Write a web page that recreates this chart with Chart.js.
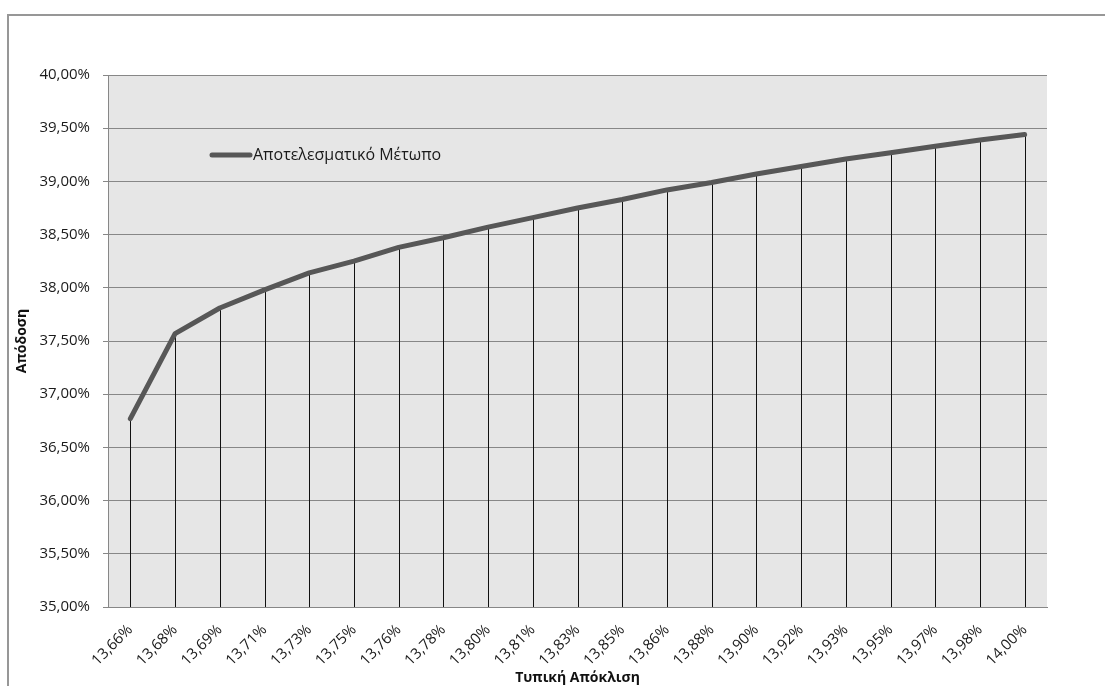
<!DOCTYPE html>
<html>
<head>
<meta charset="utf-8">
<script src="https://cdn.jsdelivr.net/npm/chart.js@4/dist/chart.umd.min.js"></script>
<style>
  html, body { margin: 0; padding: 0; background: #fff; overflow: hidden; }
  #wrap { position: relative; width: 1105px; height: 686px; }
  #frame { position: absolute; left: 7px; top: 14px; width: 1200px; height: 800px; border: 2px solid #979797; box-sizing: border-box; }
  canvas { position: absolute; left: 0; top: 0; }
</style>
</head>
<body>
<div id="wrap">
  <div id="frame"></div>
  <canvas id="c" width="1105" height="686"></canvas>
</div>
<script>
// Standard deviation (x categories) and expected return (%) along the efficient frontier
const stdDevLabels = ["13,66%", "13,68%", "13,69%", "13,71%", "13,73%", "13,75%", "13,76%", "13,78%",
  "13,80%", "13,81%", "13,83%", "13,85%", "13,86%", "13,88%", "13,90%", "13,92%", "13,93%",
  "13,95%", "13,97%", "13,98%", "14,00%"];
const returnValues = [36.77, 37.57, 37.81, 37.98, 38.14, 38.25, 38.38, 38.47, 38.57, 38.66, 38.75,
  38.83, 38.92, 38.99, 39.07, 39.14, 39.21, 39.27, 39.33, 39.39, 39.44];
const seriesName = "Αποτελεσματικό Μέτωπο";
const yAxisTitle = "Απόδοση";
const xAxisTitle = "Τυπική Απόκλιση";
const yMin = 35, yMax = 40, yStep = 0.5;

const FONT = "'Open Sans', 'Noto Sans', sans-serif";
const LINE_COLOR = '#575757';
const GRID_COLOR = '#878787';

// grey plot background
const plotBackground = {
  id: 'plotBackground',
  beforeDraw(chart) {
    const { ctx, chartArea: a } = chart;
    ctx.save();
    ctx.fillStyle = '#e6e6e6';
    ctx.fillRect(a.left, a.top, a.right - a.left, a.bottom - a.top);
    ctx.restore();
  }
};

// vertical drop lines from each point to the category axis
const dropLines = {
  id: 'dropLines',
  beforeDatasetsDraw(chart) {
    const { ctx, chartArea: a } = chart;
    const meta = chart.getDatasetMeta(0);
    ctx.save();
    ctx.strokeStyle = '#111';
    ctx.lineWidth = 1;
    ctx.beginPath();
    meta.data.forEach(pt => {
      const x = Math.round(pt.x) + 0.5;
      ctx.moveTo(x, pt.y);
      ctx.lineTo(x, a.bottom);
    });
    ctx.stroke();
    ctx.restore();
  }
};

// legend entry placed inside the plot
const insideLegend = {
  id: 'insideLegend',
  afterDraw(chart) {
    const { ctx, chartArea: a } = chart;
    const ds = chart.data.datasets[0];
    const x0 = a.left + 102, y0 = a.top + 80;
    ctx.save();
    ctx.strokeStyle = ds.borderColor;
    ctx.lineWidth = 5;
    ctx.lineCap = 'round';
    ctx.beginPath();
    ctx.moveTo(x0 + 2, y0);
    ctx.lineTo(x0 + 40, y0);
    ctx.stroke();
    ctx.fillStyle = '#1a1a1a';
    ctx.font = '16px ' + FONT;
    ctx.textBaseline = 'middle';
    ctx.textAlign = 'left';
    ctx.fillText(ds.label, x0 + 43, y0);
    ctx.restore();
  }
};

new Chart(document.getElementById('c'), {
  type: 'line',
  data: {
    labels: stdDevLabels,
    datasets: [{
      label: seriesName,
      data: returnValues,
      borderColor: LINE_COLOR,
      borderWidth: 5,
      borderCapStyle: 'round',
      borderJoinStyle: 'round',
      pointRadius: 0,
      pointHoverRadius: 0,
      tension: 0,
      fill: false
    }]
  },
  options: {
    responsive: false,
    devicePixelRatio: 1,
    animation: false,
    layout: { padding: { top: 75, right: 58, left: 0, bottom: 0 } },
    plugins: {
      legend: { display: false },
      tooltip: { enabled: false }
    },
    scales: {
      x: {
        type: 'category',
        offset: true,
        grid: { display: false, drawTicks: false },
        border: { display: true, color: GRID_COLOR, width: 1 },
        ticks: {
          minRotation: 45,
          maxRotation: 45,
          autoSkip: false,
          padding: 14,
          color: '#1a1a1a',
          font: { family: FONT, size: 15 }
        },
        title: {
          display: true,
          text: xAxisTitle,
          color: '#111',
          padding: { top: 0, bottom: 0 },
          font: { family: FONT, size: 14, weight: 'bold' }
        },
        afterFit(scale) { scale.height = 79; }
      },
      y: {
        min: yMin,
        max: yMax,
        grid: {
          color: GRID_COLOR,
          lineWidth: 1,
          drawTicks: true,
          tickLength: 5
        },
        border: { display: true, color: GRID_COLOR, width: 1 },
        ticks: {
          stepSize: yStep,
          padding: 13,
          color: '#1a1a1a',
          font: { family: FONT, size: 15 },
          callback: v => v.toFixed(2).replace('.', ',') + '%'
        },
        title: {
          display: true,
          text: yAxisTitle,
          color: '#111',
          padding: { top: 14, bottom: 0 },
          font: { family: FONT, size: 14, weight: 'bold' }
        },
        afterFit(scale) { scale.width = 108; }
      }
    }
  },
  plugins: [plotBackground, dropLines, insideLegend]
});
</script>
</body>
</html>
